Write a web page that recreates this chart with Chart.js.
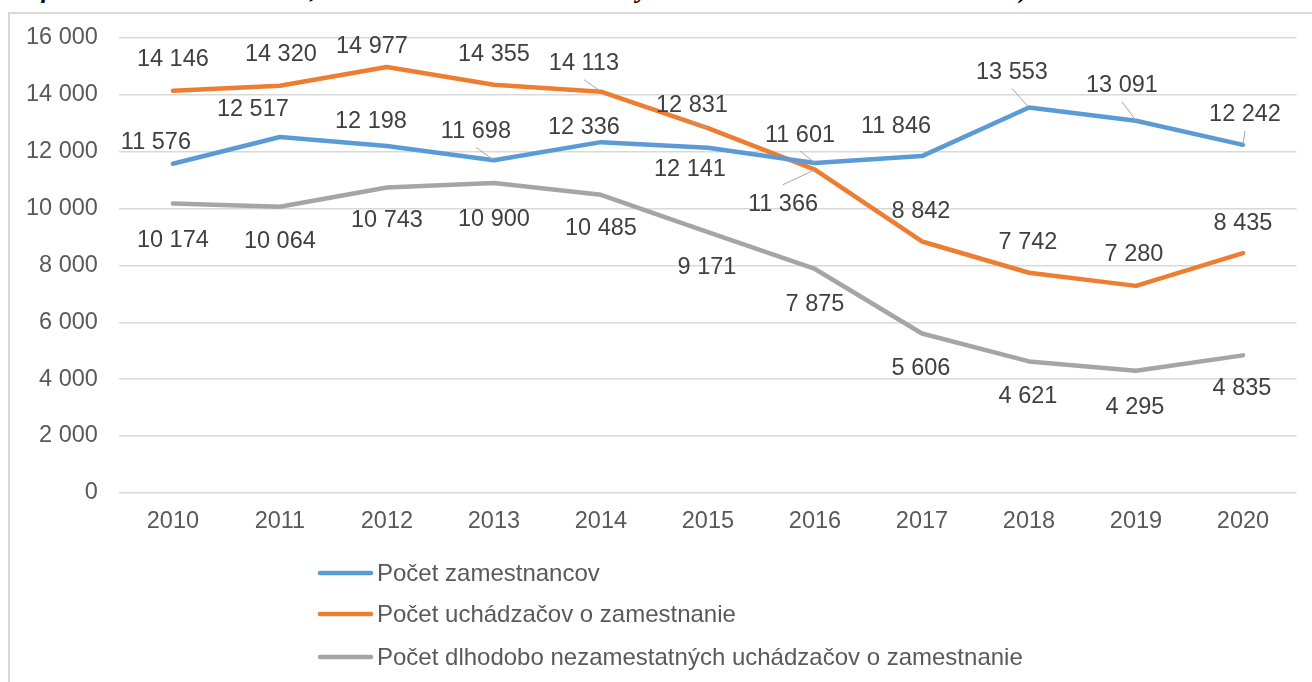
<!DOCTYPE html>
<html>
<head>
<meta charset="utf-8">
<script src="https://cdn.jsdelivr.net/npm/chart.js@4.4.0/dist/chart.umd.min.js"></script>
<style>
  body { margin: 0; background: #fff; width: 1312px; height: 682px; overflow: hidden; position: relative; }
  #title { position: absolute; left: 0; top: -25px; line-height: 26px; font: italic bold 25.5px "Liberation Serif", serif; white-space: nowrap; color: #000; }
  #frame { position: absolute; left: 8px; top: 12px; width: 1320px; height: 700px; border: 2px solid #d9d9d9; box-sizing: border-box; }
  #c { position: absolute; left: 0; top: 0; }
</style>
</head>
<body>
<div id="title">Graf č. 6 Počet zamestnancov, UoZ a dlhodobo nezamestnaných UoZ v okrese Rimavská Sobota*)</div>
<div id="frame"></div>
<canvas id="c" width="1312" height="682"></canvas>
<script>
const years = ['2010', '2011', '2012', '2013', '2014', '2015', '2016', '2017', '2018', '2019', '2020'];
const employees = [11576, 12517, 12198, 11698, 12336, 12141, 11601, 11846, 13553, 13091, 12242];
const jobSeekers = [14146, 14320, 14977, 14355, 14113, 12831, 11366, 8842, 7742, 7280, 8435];
const longTermSeekers = [10174, 10064, 10743, 10900, 10485, 9171, 7875, 5606, 4621, 4295, 4835];
const seriesNames = ['Počet zamestnancov', 'Počet uchádzačov o zamestnanie', 'Počet dlhodobo nezamestatných uchádzačov o zamestnanie'];
const seriesColors = ['#5b9bd5', '#ed7d31', '#a5a5a5'];
const yTicks = [0, 2000, 4000, 6000, 8000, 10000, 12000, 14000, 16000];

// where each data label sits relative to its point (px), third item = leader line
const employeesLabelPos = [[-17, -22], [-27, -28], [-16, -26], [-18, -30, 1], [-17, -16], [-18, 21], [-15, -29, 1], [-26, -31], [-17, -36, 1], [-14, -36, 1], [2, -31, 1]];
const jobSeekersLabelPos = [[0, -32], [1, -32], [-15, -22], [0, -31], [-17, -29, 1], [-16, -24, 1], [-32, 34, 1], [-1, -31], [-1, -31], [-2, -32], [0, -31]];
const longTermLabelPos = [[0, 36], [0, 34], [0, 32], [0, 36], [0, 33], [-1, 34], [0, 35], [-1, 34], [-1, 34], [-1, 36], [-1, 32]];
const labelPos = [employeesLabelPos, jobSeekersLabelPos, longTermLabelPos];

const fmt = n => String(n).replace(/\B(?=(\d{3})+(?!\d))/g, ' ');
const FONT = '"Liberation Sans", Arial, sans-serif';

const dataLabels = {
    id: 'dataLabels',
    afterDatasetsDraw(chart) {
        const ctx = chart.ctx;
        ctx.save();
        ctx.font = '23.5px ' + FONT;
        ctx.textAlign = 'center';
        ctx.textBaseline = 'middle';
        chart.data.datasets.forEach((ds, di) => {
            chart.getDatasetMeta(di).data.forEach((pt, i) => {
                const p = labelPos[di][i];
                const lx = pt.x + p[0], ly = pt.y + p[1];
                if (p[2]) {
                    const sy = ly + (p[1] < 0 ? 17 : -19);
                    ctx.strokeStyle = '#a6a6a6';
                    ctx.lineWidth = 1;
                    ctx.beginPath();
                    ctx.moveTo(lx, sy);
                    ctx.lineTo(pt.x, pt.y);
                    ctx.stroke();
                }
                ctx.fillStyle = '#404040';
                ctx.fillText(fmt(ds.data[i]), lx, ly + 1);
            });
        });
        ctx.restore();
    }
};

const sideLegend = {
    id: 'sideLegend',
    afterDraw(chart) {
        const ctx = chart.ctx;
        ctx.save();
        ctx.font = '24px ' + FONT;
        ctx.textBaseline = 'middle';
        const rows = [573, 614, 657];
        chart.data.datasets.forEach((ds, i) => {
            ctx.strokeStyle = ds.borderColor;
            ctx.lineWidth = 4.5;
            ctx.lineCap = 'round';
            ctx.beginPath();
            ctx.moveTo(320, rows[i]);
            ctx.lineTo(371, rows[i]);
            ctx.stroke();
            ctx.fillStyle = '#595959';
            ctx.fillText(ds.label, 377, rows[i] + 1);
        });
        ctx.restore();
    }
};

new Chart(document.getElementById('c'), {
    type: 'line',
    data: {
        labels: years,
        datasets: [employees, jobSeekers, longTermSeekers].map((d, i) => ({
            label: seriesNames[i],
            data: d,
            borderColor: seriesColors[i],
            backgroundColor: seriesColors[i],
            borderWidth: 4.5,
            pointRadius: 0,
            tension: 0,
            borderJoinStyle: 'round',
            borderCapStyle: 'round'
        }))
    },
    options: {
        responsive: false,
        animation: false,
        layout: { padding: { left: 4.5, right: 15.5, top: 38, bottom: 140 } },
        plugins: { legend: { display: false }, tooltip: { enabled: false } },
        scales: {
            x: {
                offset: true,
                grid: { display: false },
                border: { display: false },
                ticks: { color: '#595959', font: { family: FONT, size: 23.5 }, padding: 6.5 }
            },
            y: {
                min: 0,
                max: 16000,
                afterBuildTicks: axis => { axis.ticks = yTicks.map(v => ({ value: v })); },
                grid: { color: '#d9d9d9', lineWidth: 1.5, drawTicks: false },
                border: { display: false },
                ticks: { color: '#595959', font: { family: FONT, size: 23.5 }, padding: 21.5, callback: v => fmt(v) }
            }
        }
    },
    plugins: [dataLabels, sideLegend]
});
</script>
</body>
</html>
